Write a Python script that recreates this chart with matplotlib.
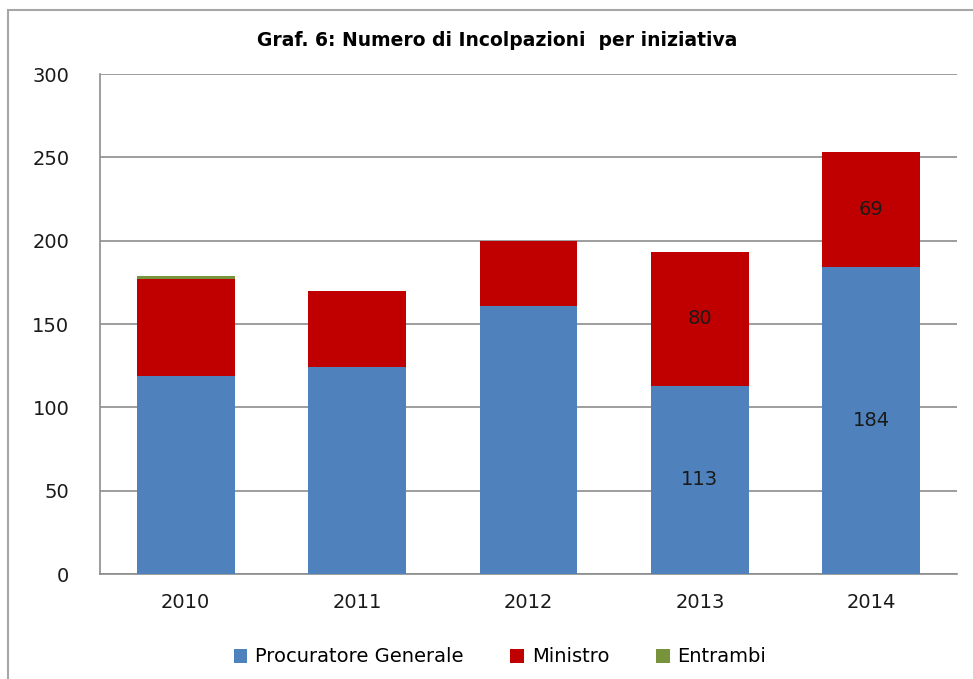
import matplotlib.pyplot as plt
import numpy as np
from matplotlib.patches import Rectangle

# data
years = ['2010', '2011', '2012', '2013', '2014']
procuratore = [119, 124, 161, 113, 184]
ministro = [58, 46, 39, 80, 69]
entrambi = [2, 0, 0, 0, 0]
# only these bars carry a value label in the original
labelled_years = ['2013', '2014']

BLUE = '#4f81bd'
RED = '#c00000'
GREEN = '#77933c'

plt.rcParams['font.family'] = ['DejaVu Sans']

fig = plt.figure(figsize=(9.73, 6.79), dpi=100)
ax = fig.add_axes([100 / 973, 105 / 679, 857 / 973, 500 / 679])

# outer chart frame
fig.patches.append(Rectangle((8 / 973, -0.05), 1.1, 1.035,
                             transform=fig.transFigure, fill=False,
                             edgecolor='#a6a6a6', linewidth=1.5))

x = np.arange(len(years))
w = 0.57
pg = np.array(procuratore)
mi = np.array(ministro)
en = np.array(entrambi)

ax.bar(x, pg, w, color=BLUE, label='Procuratore Generale', zorder=3)
ax.bar(x, mi, w, bottom=pg, color=RED, label='Ministro', zorder=3)
ax.bar(x, en, w, bottom=pg + mi, color=GREEN, label='Entrambi', zorder=3)

for i, y in enumerate(years):
    if y in labelled_years:
        ax.text(x[i], pg[i] / 2, str(pg[i]), ha='center', va='center',
                fontsize=14, color='#1a1a1a', zorder=4)
        ax.text(x[i], pg[i] + mi[i] / 2, str(mi[i]), ha='center', va='center',
                fontsize=14, color='#1a1a1a', zorder=4)

ax.set_xlim(-0.5, len(years) - 0.5)
ax.set_ylim(0, 300)
ax.set_yticks(range(0, 301, 50))
ax.set_xticks(x)
ax.set_xticklabels(years)
ax.yaxis.grid(True, color='#8c8c8c', linewidth=1.2, zorder=0)
ax.tick_params(axis='both', length=0, labelsize=14, colors='#1a1a1a', pad=14)
ax.tick_params(axis='y', pad=22)
for s in ['top', 'right']:
    ax.spines[s].set_visible(False)
for s in ['left', 'bottom']:
    ax.spines[s].set_color('#8c8c8c')
    ax.spines[s].set_linewidth(1.2)

fig.text(497 / 973, 1 - 40 / 679, 'Graf. 6: Numero di Incolpazioni  per iniziativa',
         ha='center', va='center', fontsize=13.5, fontweight='bold')

fig.legend(loc='center', bbox_to_anchor=(500 / 973, 1 - 657 / 679), ncol=3,
           frameon=False, fontsize=14, handlelength=0.7, handleheight=0.7,
           columnspacing=2.4, handletextpad=0.4)

plt.savefig('out.png')
